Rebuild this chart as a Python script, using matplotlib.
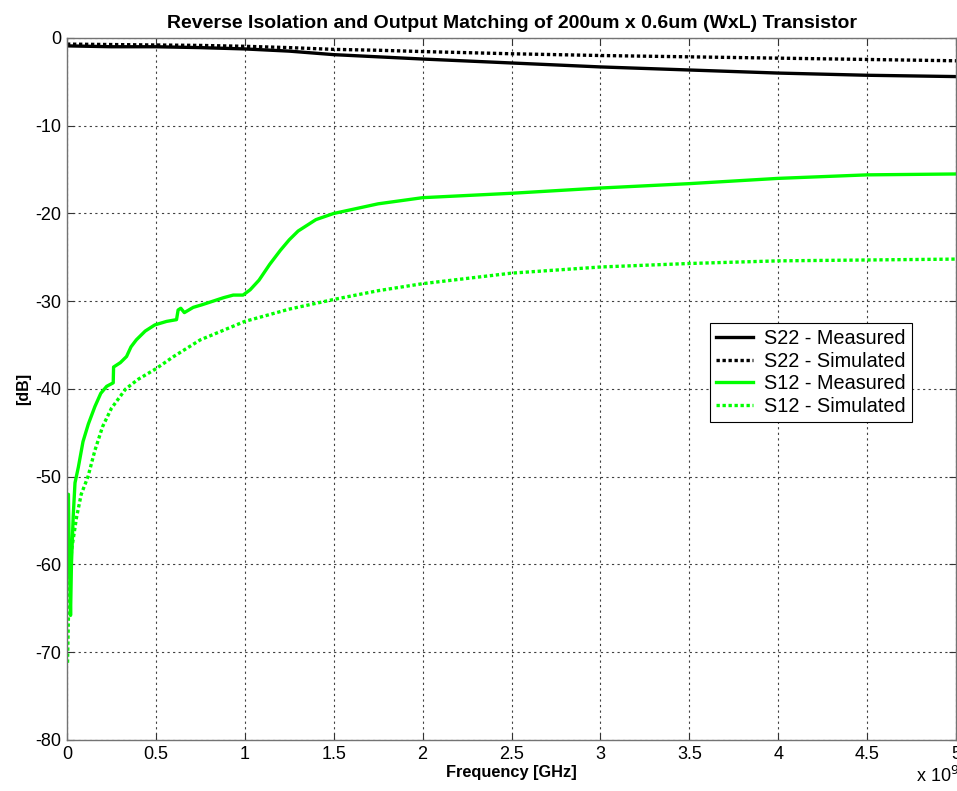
import matplotlib
matplotlib.use("Agg")
import matplotlib.pyplot as plt

plt.rcParams['font.family'] = ['Liberation Sans', 'DejaVu Sans']
plt.rcParams['axes.unicode_minus'] = False

# Frequency axis in GHz (labelled with a x 10^9 multiplier)
s22_freq = [0.0, 0.25, 0.5, 0.75, 1.0, 1.25, 1.5, 1.75, 2.0, 2.5, 3.0, 3.5, 4.0, 4.5, 5.0]
s22_meas = [-0.9, -1.0, -1.0, -1.1, -1.25, -1.5, -1.9, -2.15, -2.4, -2.85, -3.3, -3.65, -4.0, -4.25, -4.4]
s22_sim = [-0.7, -0.75, -0.8, -0.85, -0.95, -1.1, -1.3, -1.4, -1.55, -1.8, -2.0, -2.15, -2.3, -2.45, -2.6]

s12_meas_freq = [0.0, 0.008, 0.012, 0.02, 0.025, 0.035, 0.045, 0.064, 0.09, 0.12, 0.157,
                 0.19, 0.223, 0.26, 0.262, 0.30, 0.335, 0.36, 0.39, 0.44, 0.494, 0.56,
                 0.616, 0.625, 0.64, 0.66, 0.71, 0.76, 0.82, 0.88, 0.935, 0.99, 1.03,
                 1.08, 1.14, 1.2, 1.25, 1.3, 1.4, 1.5, 1.75, 2.0, 2.5, 3.0, 3.5, 4.0, 4.5, 5.0]
s12_meas = [-52.3, -52.0, -58.0, -65.8, -60.0, -54.5, -50.7, -48.9, -46.0, -44.0, -42.0,
            -40.5, -39.7, -39.3, -37.5, -37.0, -36.3, -35.2, -34.4, -33.4, -32.7, -32.3,
            -32.1, -31.0, -30.8, -31.3, -30.7, -30.4, -30.0, -29.6, -29.3, -29.3, -28.7,
            -27.6, -25.8, -24.2, -23.0, -22.0, -20.7, -20.0, -18.9, -18.2, -17.7, -17.1,
            -16.6, -16.0, -15.6, -15.5]

s12_sim_freq = [0.003, 0.01, 0.026, 0.054, 0.08, 0.118, 0.157, 0.2, 0.25, 0.33, 0.4, 0.5,
                0.6, 0.75, 1.0, 1.25, 1.5, 1.75, 2.0, 2.5, 3.0, 3.5, 4.0, 4.5, 5.0]
s12_sim = [-71.2, -64.0, -58.3, -54.6, -52.0, -50.0, -47.0, -44.3, -42.2, -40.0, -38.9,
           -37.7, -36.3, -34.4, -32.3, -30.9, -29.8, -28.8, -28.0, -26.8, -26.1, -25.7,
           -25.4, -25.3, -25.2]

x_ticks = [0, 0.5, 1, 1.5, 2, 2.5, 3, 3.5, 4, 4.5, 5]
x_tick_labels = ['0', '0.5', '1', '1.5', '2', '2.5', '3', '3.5', '4', '4.5', '5']
y_ticks = [-80, -70, -60, -50, -40, -30, -20, -10, 0]

green = '#00ff00'
dot = (0, (1.0, 0.8))

fig = plt.figure(figsize=(9.57, 7.91), dpi=100)
ax = fig.add_axes([0.070, 0.0645, 0.929, 0.8875])

lw = 2.4
ax.plot(s22_freq, s22_meas, color='black', lw=lw, label='S22 - Measured')
ax.plot(s22_freq, s22_sim, color='black', lw=lw, linestyle=dot, label='S22 - Simulated')
ax.plot(s12_meas_freq, s12_meas, color=green, lw=lw, label='S12 - Measured')
ax.plot(s12_sim_freq, s12_sim, color=green, lw=lw, linestyle=dot, label='S12 - Simulated')

ax.set_xlim(0, 5)
ax.set_ylim(-80, 0)
ax.set_xticks(x_ticks)
ax.set_xticklabels(x_tick_labels)
ax.set_yticks(y_ticks)
ax.tick_params(direction='in', top=True, right=True, labelsize=13, length=5,
               color='0.2', pad=4)
ax.grid(True, color='0.25', linestyle=(0, (2, 3)), linewidth=0.8)
for sp in ax.spines.values():
    sp.set_color('0.45')
    sp.set_linewidth(1.0)

ax.set_title('Reverse Isolation and Output Matching of 200um x 0.6um (WxL) Transistor',
             fontsize=14, fontweight='bold', pad=7)
ax.set_xlabel('Frequency [GHz]', fontsize=11.8, fontweight='bold', labelpad=2)
ax.set_ylabel('[dB]', fontsize=11.5, fontweight='bold', labelpad=3)

fig.text(0.957, 0.006, r'x 10$^{9}$', fontsize=13, ha='left', va='bottom')

leg = ax.legend(loc='upper left', bbox_to_anchor=(0.723, 0.5935), fontsize=14.3,
                frameon=True, fancybox=False, edgecolor='black', framealpha=1,
                handlelength=1.9, borderpad=0.3, labelspacing=0.18, handletextpad=0.55,
                borderaxespad=0)
leg.get_frame().set_linewidth(0.8)

fig.savefig('out.png', dpi=100)
